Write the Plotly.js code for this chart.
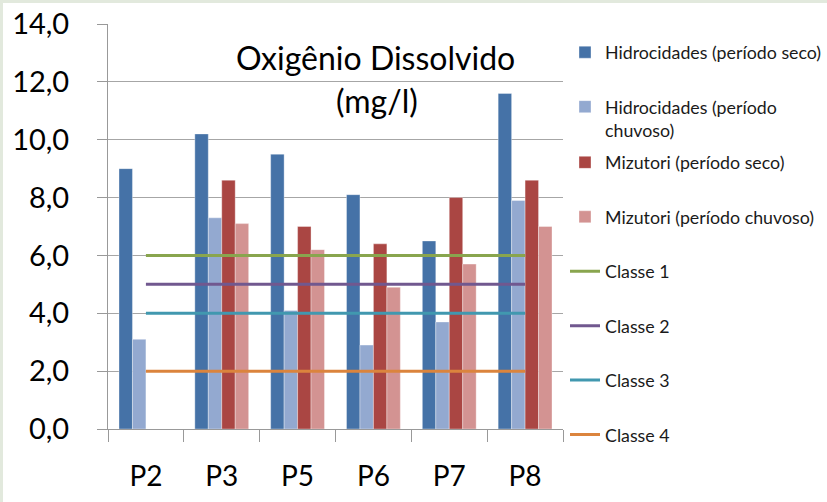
<!DOCTYPE html>
<html>
<head>
<meta charset="utf-8">
<script src="https://cdn.plot.ly/plotly-3.0.1.min.js"></script>
<style>
  html, body { margin: 0; padding: 0; background: #e2e9dd; width: 827px; height: 502px; overflow: hidden; }
  #chart { position: absolute; left: 3px; top: 3px; width: 900px; height: 499px; background: #fff; }
</style>
</head>
<body>
<div id="chart"></div>
<script>
const categories = ["P2", "P3", "P5", "P6", "P7", "P8"];
const hidroSeco    = [9.0, 10.2, 9.5, 8.1, 6.5, 11.6];
const hidroChuvoso = [3.1, 7.3, 4.1, 2.9, 3.7, 7.9];
const mizuSeco     = [null, 8.6, 7.0, 6.4, 8.0, 8.6];
const mizuChuvoso  = [null, 7.1, 6.2, 4.9, 5.7, 7.0];
const classe1 = [6, 6, 6, 6, 6, 6];
const classe2 = [5, 5, 5, 5, 5, 5];
const classe3 = [4, 4, 4, 4, 4, 4];
const classe4 = [2, 2, 2, 2, 2, 2];

const FONT = "Lato, 'Open Sans', sans-serif";
const barLine = { color: "rgba(255,255,255,0.35)", width: 1 };

function bar(name, y, color, legend, group) {
  return { type: "bar", name: name, x: categories, y: y,
           marker: { color: color, line: barLine },
           legend: legend, legendgroup: group, hoverinfo: "skip" };
}
function line(name, y, color, group) {
  return { type: "scatter", mode: "lines", name: name, x: categories, y: y,
           line: { color: color, width: 3 }, legend: "legend2", legendgroup: group, hoverinfo: "skip" };
}

const data = [
  bar("Hidrocidades (período seco)", hidroSeco, "#4572A7", "legend", "a"),
  bar("Hidrocidades (período<br>chuvoso)", hidroChuvoso, "#93A9D0", "legend", "b"),
  bar("Mizutori (período seco)", mizuSeco, "#AA4643", "legend2", "c"),
  bar("Mizutori (período chuvoso)", mizuChuvoso, "#D39392", "legend2", "d"),
  line("Classe 1", classe1, "#89A54E", "e"),
  line("Classe 2", classe2, "#71588F", "f"),
  line("Classe 3", classe3, "#4198AF", "g"),
  line("Classe 4", classe4, "#DB843D", "h")
];

const legendCommon = {
  font: { family: FONT, size: 17.8, color: "#1a1a1a" },
  bgcolor: "rgba(0,0,0,0)", borderwidth: 0,
  traceorder: "grouped", tracegroupgap: 28.3, valign: "top",
  xanchor: "left", yanchor: "top"
};

const layout = {
  width: 900, height: 499,
  margin: { l: 105, r: 340, t: 21, b: 73 },
  paper_bgcolor: "#ffffff", plot_bgcolor: "#ffffff",
  separators: ",.",
  barmode: "group", bargap: 0.29, bargroupgap: 0,
  showlegend: true,
  legend: Object.assign({}, legendCommon, { x: 1.0044, y: 0.975 }),
  legend2: Object.assign({}, legendCommon, { x: 1.0044, y: 0.703 }),
  xaxis: {
    type: "category", tickson: "boundaries", ticks: "outside", ticklen: 12, tickcolor: "#999",
    showline: true, linecolor: "#999", showgrid: false,
    tickfont: { family: FONT, size: 28, color: "#000" }, ticklabelstandoff: 22,
    fixedrange: true
  },
  yaxis: {
    range: [0, 14], dtick: 2, tickformat: ".1f", ticks: "outside", ticklen: 10, tickcolor: "#999",
    showline: true, linecolor: "#999", showgrid: true, gridcolor: "#a6a6a6", gridwidth: 1,
    zeroline: false,
    tickfont: { family: FONT, size: 29, color: "#000" }, ticklabelstandoff: 22,
    fixedrange: true
  },
  annotations: [
    { text: "Oxigênio Dissolvido", xref: "paper", yref: "paper", x: 0.589, y: 0.9185,
      xanchor: "center", yanchor: "middle", showarrow: false,
      font: { family: FONT, size: 32, color: "#000" } },
    { text: "(mg/l)", xref: "paper", yref: "paper", x: 0.592, y: 0.812,
      xanchor: "center", yanchor: "middle", showarrow: false,
      font: { family: FONT, size: 32, color: "#000" } }
  ]
};

Plotly.newPlot("chart", data, layout, { staticPlot: true, displayModeBar: false });
</script>
</body>
</html>
